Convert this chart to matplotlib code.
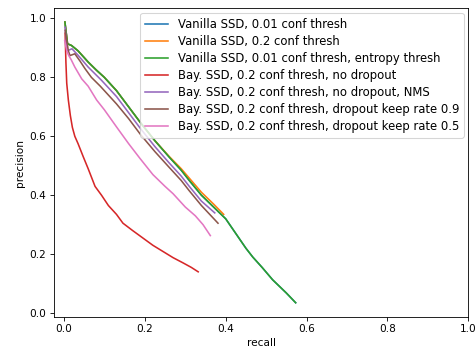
import matplotlib
matplotlib.use("Agg")
import matplotlib.pyplot as plt

# precision-recall curves
green_r = [0.0025, 0.009, 0.019, 0.035, 0.06, 0.08, 0.10, 0.13, 0.16, 0.19, 0.225,
           0.26, 0.29, 0.31, 0.34, 0.37, 0.40, 0.415, 0.435, 0.45, 0.467, 0.49, 0.516, 0.55, 0.573]
green_p = [0.988, 0.914, 0.908, 0.89, 0.852, 0.825, 0.80, 0.755, 0.70, 0.645, 0.585,
           0.53, 0.485, 0.45, 0.40, 0.36, 0.32, 0.29, 0.25, 0.22, 0.19, 0.155, 0.113, 0.068, 0.035]

# blue is hidden under green
blue_r = list(green_r)
blue_p = list(green_p)

orange_r = [0.0025, 0.009, 0.019, 0.035, 0.06, 0.08, 0.10, 0.13, 0.16, 0.19, 0.225,
            0.26, 0.29, 0.31, 0.34, 0.37, 0.395]
orange_p = [0.988, 0.914, 0.908, 0.89, 0.852, 0.825, 0.80, 0.755, 0.70, 0.645, 0.585,
            0.532, 0.49, 0.458, 0.41, 0.37, 0.335]

red_r = [0.003, 0.005, 0.007, 0.011, 0.016, 0.021, 0.027, 0.035, 0.048, 0.06, 0.077, 0.093,
         0.11, 0.13, 0.146, 0.17, 0.196, 0.22, 0.245, 0.27, 0.295, 0.315, 0.332]
red_p = [0.95, 0.85, 0.78, 0.723, 0.67, 0.63, 0.60, 0.575, 0.53, 0.49, 0.43, 0.40,
         0.365, 0.335, 0.305, 0.28, 0.254, 0.23, 0.209, 0.188, 0.17, 0.155, 0.14]

purple_r = [0.003, 0.008, 0.013, 0.02, 0.035, 0.06, 0.093, 0.13, 0.16, 0.19, 0.225,
            0.26, 0.29, 0.31, 0.34, 0.373]
purple_p = [0.97, 0.89, 0.893, 0.897, 0.875, 0.835, 0.79, 0.735, 0.68, 0.625, 0.565,
            0.51, 0.465, 0.43, 0.38, 0.34]

brown_r = [0.003, 0.011, 0.015, 0.027, 0.04, 0.052, 0.068, 0.09, 0.11, 0.13, 0.16, 0.19, 0.225,
           0.26, 0.29, 0.31, 0.34, 0.381]
brown_p = [0.96, 0.89, 0.874, 0.88, 0.855, 0.83, 0.80, 0.77, 0.74, 0.71, 0.66, 0.605, 0.548,
           0.495, 0.45, 0.415, 0.365, 0.305]

pink_r = [0.002, 0.007, 0.012, 0.018, 0.027, 0.044, 0.06, 0.081, 0.10, 0.13, 0.16, 0.188,
          0.22, 0.25, 0.27, 0.30, 0.325, 0.344, 0.362]
pink_p = [0.925, 0.89, 0.874, 0.86, 0.835, 0.795, 0.77, 0.723, 0.69, 0.632, 0.575, 0.525,
          0.47, 0.43, 0.405, 0.36, 0.33, 0.30, 0.263]

labels = ["Vanilla SSD, 0.01 conf thresh",
          "Vanilla SSD, 0.2 conf thresh",
          "Vanilla SSD, 0.01 conf thresh, entropy thresh",
          "Bay. SSD, 0.2 conf thresh, no dropout",
          "Bay. SSD, 0.2 conf thresh, no dropout, NMS",
          "Bay. SSD, 0.2 conf thresh, dropout keep rate 0.9",
          "Bay. SSD, 0.2 conf thresh, dropout keep rate 0.5"]

curves = [(blue_r, blue_p), (orange_r, orange_p), (green_r, green_p), (red_r, red_p),
          (purple_r, purple_p), (brown_r, brown_p), (pink_r, pink_p)]

fig = plt.figure(figsize=(476 / 76, 351 / 76), dpi=76)
ax = fig.add_axes([0.113, 0.098, 0.871, 0.878])

for (r, p), lab in zip(curves, labels):
    ax.plot(r, p, label=lab)

ax.set_xlim(-0.025, 1.0)
ax.set_ylim(-0.012, 1.034)
ax.set_xlabel("recall")
ax.set_ylabel("precision")
ax.legend(loc="upper right", fontsize=11, labelspacing=0.35, borderaxespad=0.4)

fig.savefig("out.png", dpi=76)
